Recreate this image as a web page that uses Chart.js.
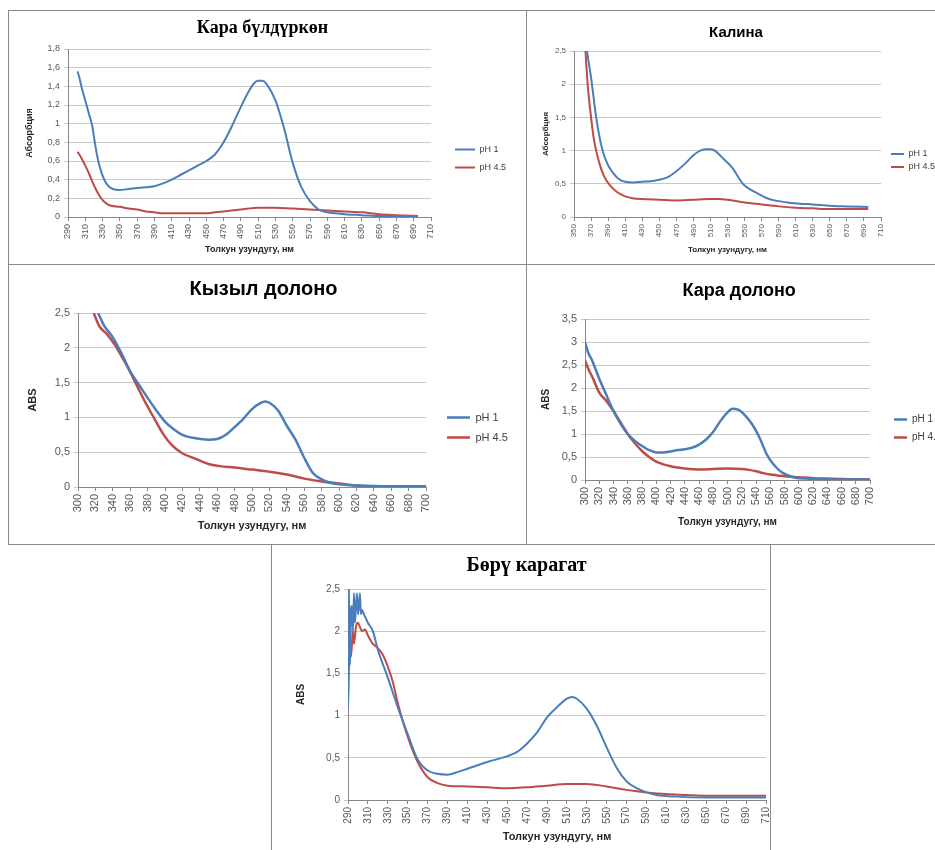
<!DOCTYPE html>
<html>
<head>
<meta charset="utf-8">
<script src="https://cdn.jsdelivr.net/npm/chart.js@4"></script>
<style>
  body { margin: 0; background: #fff; width: 935px; height: 850px; position: relative; overflow: hidden; }
  .box { position: absolute; border: 1px solid #8a8a8a; overflow: hidden; background: #fff; }
  .box canvas { position: absolute; left: 0; top: 0; }
</style>
</head>
<body>
<div class="box" style="left:8px;top:10px;width:517px;height:253px"><canvas id="karaBuld" width="517" height="253"></canvas></div>
<div class="box" style="left:526px;top:10px;width:440px;height:253px"><canvas id="kalina" width="440" height="253"></canvas></div>
<div class="box" style="left:8px;top:264px;width:517px;height:279px"><canvas id="kyzyl" width="517" height="279"></canvas></div>
<div class="box" style="left:526px;top:264px;width:440px;height:279px"><canvas id="karaDol" width="440" height="279"></canvas></div>
<div class="box" style="left:271px;top:544px;width:498px;height:310px"><canvas id="boru" width="520" height="310"></canvas></div>
<script>
// Кара бүлдүркөн
const karaBuldNm1 = [301,303,306,309,312,315,318,321,325,329,333,337,342,350,360,370,380,390,400,410,420,430,440,450,460,470,480,490,500,505,510,515,520,530,540,550,560,570,580,590,600,610,630,650,670,695];
const karaBuldPh1 = [1.56,1.50,1.38,1.28,1.18,1.08,0.98,0.80,0.60,0.47,0.38,0.33,0.30,0.29,0.30,0.31,0.32,0.33,0.36,0.40,0.45,0.50,0.55,0.60,0.67,0.80,0.98,1.18,1.36,1.43,1.46,1.46,1.42,1.25,0.95,0.58,0.32,0.17,0.08,0.05,0.04,0.03,0.02,0.01,0.01,0.01];
const karaBuldNm45 = [301,305,310,315,320,325,330,335,340,350,360,370,380,390,400,410,430,450,460,470,490,510,530,550,570,590,610,630,650,670,695];
const karaBuldPh45 = [0.70,0.64,0.55,0.45,0.34,0.25,0.18,0.14,0.12,0.11,0.09,0.08,0.06,0.05,0.04,0.04,0.04,0.04,0.05,0.06,0.08,0.10,0.10,0.09,0.08,0.07,0.06,0.05,0.03,0.02,0.01];

// Калина
const kalinaNm1 = [364,367,370,373,376,380,384,390,395,400,405,410,420,430,440,450,460,470,480,490,500,505,510,515,525,535,548,556,566,575,585,600,615,630,650,670,695];
const kalinaPh1 = [2.6,2.35,2.1,1.8,1.5,1.2,0.98,0.78,0.68,0.60,0.55,0.53,0.52,0.53,0.54,0.56,0.60,0.69,0.80,0.93,1.01,1.02,1.02,1.00,0.88,0.75,0.50,0.42,0.35,0.29,0.25,0.22,0.20,0.19,0.17,0.16,0.15];
const kalinaNm45 = [363,366,370,373,376,380,385,392,400,410,420,430,450,470,490,510,520,530,550,570,590,610,630,650,670,695];
const kalinaPh45 = [2.6,2.0,1.5,1.2,1.0,0.8,0.62,0.48,0.38,0.31,0.28,0.27,0.26,0.25,0.26,0.27,0.27,0.26,0.22,0.19,0.16,0.14,0.13,0.12,0.12,0.12];

// Кызыл долоно
const kyzylNm1 = [323,330,340,350,360,370,380,390,400,410,420,435,450,460,470,480,490,500,510,515,520,530,540,550,560,570,580,590,600,620,650,700];
const kyzylPh1 = [2.5,2.32,2.15,1.92,1.66,1.47,1.28,1.1,0.94,0.83,0.75,0.70,0.68,0.69,0.75,0.86,0.98,1.12,1.21,1.23,1.21,1.1,0.88,0.68,0.42,0.20,0.11,0.06,0.04,0.02,0.01,0.01];
const kyzylNm45 = [318,325,333,342,350,358,366,376,387,398,408,418,436,450,463,480,500,520,540,560,580,600,620,650,700];
const kyzylPh45 = [2.5,2.3,2.2,2.05,1.88,1.7,1.5,1.25,1.0,0.76,0.6,0.5,0.4,0.33,0.3,0.28,0.25,0.22,0.18,0.12,0.08,0.05,0.02,0.01,0.005];

// Кара долоно
const karaDolNm1 = [300,305,310,320,330,340,350,360,370,380,390,400,410,420,430,440,450,460,470,480,490,500,507,515,525,535,545,555,565,575,585,595,610,630,660,700];
const karaDolPh1 = [3.0,2.75,2.6,2.2,1.85,1.5,1.22,1.0,0.85,0.74,0.65,0.6,0.6,0.62,0.65,0.67,0.7,0.77,0.88,1.05,1.28,1.47,1.55,1.53,1.4,1.2,0.92,0.56,0.33,0.18,0.1,0.05,0.03,0.02,0.01,0.01];
const karaDolNm45 = [300,305,310,320,330,340,350,360,370,380,390,400,410,420,430,440,460,480,500,520,530,540,550,560,570,580,600,620,640,660,700];
const karaDolPh45 = [2.6,2.4,2.25,1.9,1.72,1.5,1.25,1.0,0.8,0.63,0.5,0.4,0.34,0.3,0.27,0.25,0.23,0.24,0.25,0.24,0.22,0.19,0.15,0.12,0.1,0.08,0.06,0.04,0.03,0.02,0.01];

// Бөрү карагат
const boruNm1 = [290,291,292,293,294,295,296,297,298,299,300,301,302,303,304,306,308,310,315,320,330,340,350,360,370,380,390,400,410,430,450,460,470,480,490,500,510,515,520,530,540,550,560,570,580,590,600,620,650,680,710];
const boruPh1 = [1.1,2.5,1.6,2.2,2.3,2.0,2.45,2.1,2.3,2.45,2.2,2.3,2.45,2.2,2.25,2.2,2.15,2.1,2.0,1.78,1.45,1.1,0.78,0.48,0.35,0.31,0.3,0.33,0.37,0.45,0.52,0.57,0.67,0.8,0.98,1.1,1.2,1.22,1.2,1.08,0.88,0.62,0.38,0.22,0.14,0.09,0.06,0.04,0.03,0.03,0.03];
const boruNm45 = [290,292,293,295,296,298,300,302,304,307,310,315,320,325,330,335,340,350,360,370,380,390,410,430,450,470,490,510,530,550,570,590,610,630,650,710];
const boruPh45 = [1.1,1.9,1.7,2.0,1.85,2.05,2.1,2.05,2.0,2.02,1.95,1.85,1.8,1.72,1.58,1.4,1.15,0.75,0.45,0.27,0.2,0.17,0.16,0.15,0.14,0.15,0.17,0.19,0.19,0.16,0.12,0.09,0.07,0.06,0.05,0.05];

const seriesLabels = ["pH 1", "pH 4.5"];
const xTitle = "Толкун узундугу, нм";

Chart.defaults.font.family = "'Liberation Sans', Arial, sans-serif";
Chart.defaults.color = "#595959";
const serif = "'Liberation Serif', 'DejaVu Serif', serif";
const blue = "rgb(74, 126, 187)";
const red = "rgb(190, 75, 72)";

function points(xs, ys) {
  return xs.map((x, i) => ({ x: x, y: ys[i] }));
}

function comma(v) {
  return String(Math.round(v * 100) / 100).replace(".", ",");
}

function textWidth(text, size) {
  const ctx = document.createElement("canvas").getContext("2d");
  ctx.font = "normal " + size + "px " + Chart.defaults.font.family;
  return ctx.measureText(text).width;
}

function spectrum(id, s) {
  const canvas = document.getElementById(id);
  const W = canvas.width, H = canvas.height;
  const legendW = s.legend
    ? s.legPad + s.legLine + s.legSize / 2 + textWidth(seriesLabels[1], s.legSize) + 10
    : 0;
  const titleLH = s.titleSize * 1.2;
  const titleTop = s.titleY - titleLH / 2;
  const line = (label, data, color) => ({
    label: label,
    data: data,
    borderColor: color,
    backgroundColor: color,
    borderWidth: s.lineWidth || 2,
    pointRadius: 0,
    cubicInterpolationMode: "monotone",
    xAxisID: "x",
    yAxisID: "y",
  });
  return new Chart(canvas, {
    type: "line",
    data: {
      datasets: [
        line(seriesLabels[0], s.ph1, blue),
        line(seriesLabels[1], s.ph45, red),
      ],
    },
    options: {
      responsive: false,
      animation: false,
      events: [],
      layout: { padding: { left: 0, top: 0, bottom: 0, right: W - s.right - s.gap - legendW } },
      plugins: {
        title: {
          display: true,
          text: s.title,
          color: "#000",
          font: { family: s.titleFont, size: s.titleSize, weight: "bold", lineHeight: 1.2 },
          padding: { top: titleTop, bottom: s.top - titleTop - titleLH },
        },
        legend: {
          display: s.legend,
          position: "right",
          title: { display: true, text: "", font: { size: 1, lineHeight: 1 }, padding: { top: 2 * (s.legShift || 0) - 1, bottom: 0 } },
          labels: {
            usePointStyle: true,
            pointStyle: "line",
            pointStyleWidth: s.legLine,
            padding: s.legPad,
            color: "#404040",
            font: { size: s.legSize },
          },
        },
        tooltip: { enabled: false },
      },
      scales: {
        x: {
          type: "linear",
          min: s.xMin,
          max: s.xMax,
          afterFit: (scale) => { scale.height = H - s.bottom; },
          grid: { drawOnChartArea: false, tickLength: 4, color: "#868686" },
          border: { color: "#868686" },
          ticks: { stepSize: 20, autoSkip: false, minRotation: 90, maxRotation: 90, padding: 3, font: { size: s.tickSize } },
          title: {
            display: true,
            text: xTitle,
            color: "#262626",
            font: { size: s.xTitleSize, weight: "bold" },
            padding: { top: 0, bottom: H - s.xTitleY - s.xTitleSize * 0.6 },
          },
        },
        y: {
          min: 0,
          max: s.yMax,
          afterFit: (scale) => { scale.width = s.left; },
          grid: { color: "#c8c8c8", tickLength: 4 },
          border: { color: "#868686" },
          ticks: { stepSize: s.yStep, padding: 4, font: { size: s.tickSize }, callback: comma },
          title: {
            display: true,
            text: s.yTitle,
            color: "#262626",
            font: { size: s.yTitleSize, weight: "bold" },
            padding: { top: s.yTitleX - s.yTitleSize * 0.6, bottom: 0 },
          },
        },
        gap: {
          axis: "y",
          type: "linear",
          position: "right",
          afterFit: (scale) => { scale.width = s.gap; },
          grid: { display: false },
          border: { display: false },
          ticks: { display: false },
        },
      },
    },
  });
}

var chartKaraBuld = spectrum("karaBuld", {
  title: "Кара бүлдүркөн", titleFont: serif, titleSize: 18, titleY: 17,
  ph1: points(karaBuldNm1, karaBuldPh1), ph45: points(karaBuldNm45, karaBuldPh45),
  left: 59, right: 422, top: 38, bottom: 206,
  xMin: 290, xMax: 710, yMax: 1.8, yStep: 0.2, tickSize: 9,
  yTitle: "Абсорбция", yTitleSize: 9, yTitleX: 21, xTitleSize: 9, xTitleY: 239,
  legend: true, legSize: 9, legPad: 9, legLine: 20, legShift: 21, gap: 15,
});

var chartKalina = spectrum("kalina", {
  title: "Калина", titleFont: Chart.defaults.font.family, titleSize: 15, titleY: 22,
  ph1: points(kalinaNm1, kalinaPh1), ph45: points(kalinaNm45, kalinaPh45),
  left: 47, right: 354, top: 40, bottom: 206,
  xMin: 350, xMax: 710, yMax: 2.5, yStep: 0.5, tickSize: 8,
  yTitle: "Абсорбция", yTitleSize: 8, yTitleX: 19, xTitleSize: 8, xTitleY: 239,
  legend: true, legSize: 9, legPad: 4, legLine: 13, legShift: 23, gap: 6,
});

var chartKyzyl = spectrum("kyzyl", {
  title: "Кызыл долоно", titleFont: Chart.defaults.font.family, titleSize: 20, titleY: 24,
  ph1: points(kyzylNm1, kyzylPh1), ph45: points(kyzylNm45, kyzylPh45),
  left: 69, right: 417, top: 48, bottom: 222, lineWidth: 2.5,
  xMin: 300, xMax: 700, yMax: 2.5, yStep: 0.5, tickSize: 11,
  yTitle: "ABS", yTitleSize: 11, yTitleX: 24, xTitleSize: 11, xTitleY: 261,
  legend: true, legSize: 11, legPad: 9, legLine: 23, legShift: 23, gap: 12,
});

var chartKaraDol = spectrum("karaDol", {
  title: "Кара долоно", titleFont: Chart.defaults.font.family, titleSize: 18, titleY: 26,
  ph1: points(karaDolNm1, karaDolPh1), ph45: points(karaDolNm45, karaDolPh45),
  left: 58, right: 343, top: 54, bottom: 215, lineWidth: 2.5,
  xMin: 300, xMax: 700, yMax: 3.5, yStep: 0.5, tickSize: 11,
  yTitle: "ABS", yTitleSize: 10, yTitleX: 19, xTitleSize: 10, xTitleY: 257,
  legend: true, legSize: 10, legPad: 8, legLine: 13, legShift: 24, gap: 16,
});

var chartBoru = spectrum("boru", {
  title: "Бөрү карагат", titleFont: serif, titleSize: 20, titleY: 21,
  ph1: points(boruNm1, boruPh1), ph45: points(boruNm45, boruPh45),
  left: 76, right: 494, top: 44, bottom: 255,
  xMin: 290, xMax: 710, yMax: 2.5, yStep: 0.5, tickSize: 10,
  yTitle: "ABS", yTitleSize: 10, yTitleX: 29, xTitleSize: 11, xTitleY: 292,
  legend: false, gap: 15,
});
</script>
</body>
</html>
